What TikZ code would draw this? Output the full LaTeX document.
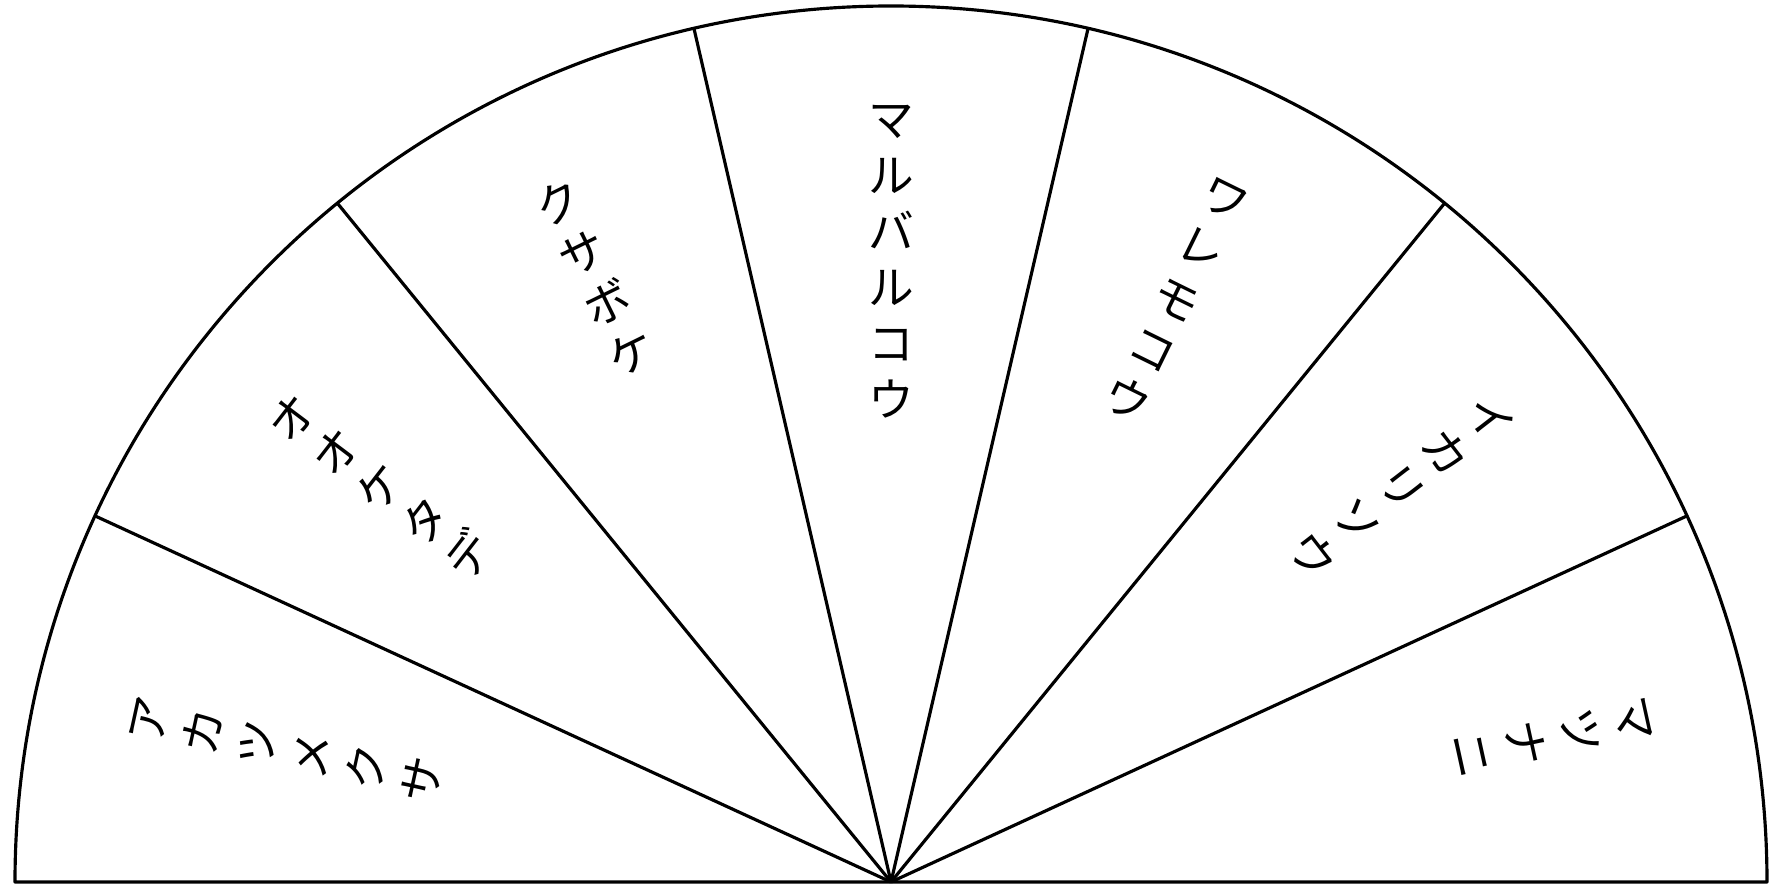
\documentclass[tikz,border=0pt]{standalone}
\usepackage{fontspec}
\newfontfamily\jpfont{Noto Sans CJK JP}
\usetikzlibrary{calc}
\tikzset{
	fanline/.style={line width=0.9pt, line join=round},
	tatelabel/.style={font=\jpfont\fontsize{13}{15.9}\selectfont, align=center,
		inner sep=0pt, anchor=north}
}

\begin{document}
\begin{tikzpicture}
	\useasboundingbox (0,0) rectangle (17.75,8.89);
	\coordinate (O) at (8.91,0.07);
	% outline of the half disc
	\draw[fanline] (O) ++(8.76,0) arc[start angle=0, end angle=180, radius=8.76] -- cycle;
	% dividing radii
	\foreach \a [count=\i] in {24.7,50.8,77.0,103.0,129.2,155.3} {
		\coordinate (rim\i) at ($(O)+(\a:8.76)$);
		\draw[fanline] (O) -- (rim\i);
	}
	% labels, read from the rim inwards
	\foreach \a/\txt [count=\i] in {
		12.35/{マ\\ツ\\ナ\\ニ},
		37.75/{イ\\カ\\リ\\ソ\\ウ},
		63.9/{ワ\\レ\\モ\\コ\\ウ},
		90/{マ\\ル\\バ\\ル\\コ\\ウ},
		116.1/{ク\\サ\\ボ\\ケ},
		142.25/{オ\\オ\\ケ\\タ\\デ},
		167.65/{ア\\カ\\ツ\\メ\\ク\\サ}}
		\node[tatelabel, rotate=\a-90] (lbl\i) at ($(O)+(\a:7.77)$) {\txt};
\end{tikzpicture}
\end{document}
